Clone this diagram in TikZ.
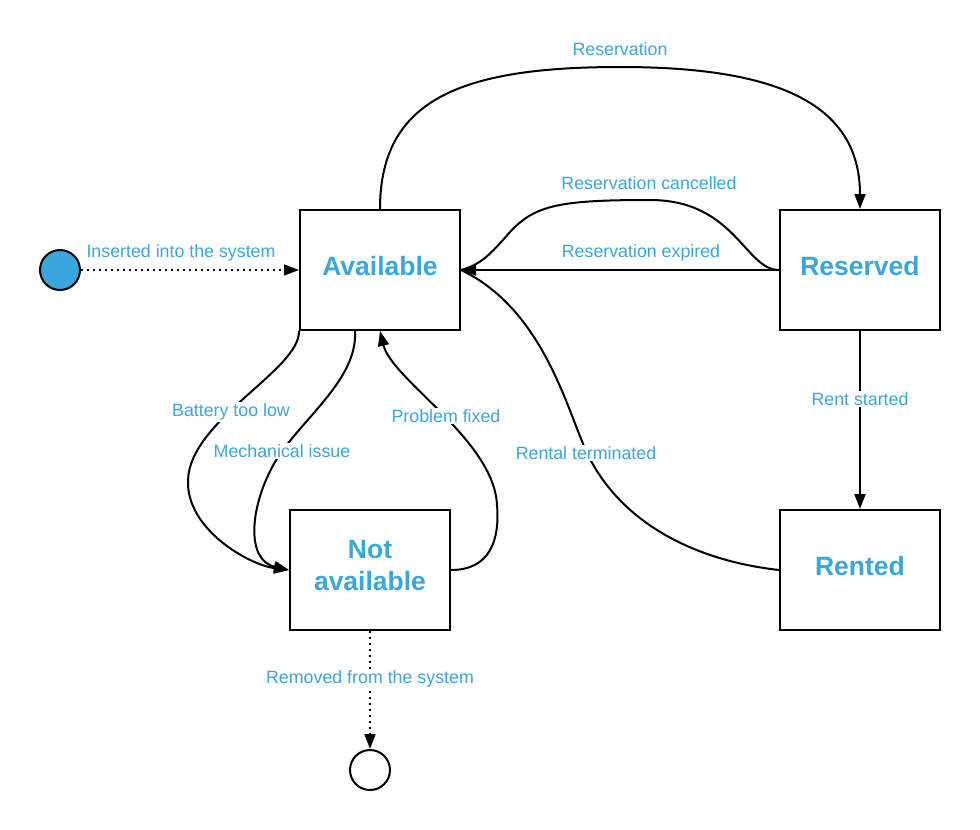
\documentclass[tikz,border=0pt]{standalone}
\usepackage{fontspec}
\setmainfont{Liberation Sans}
\usetikzlibrary{arrows.meta}
\definecolor{lblue}{RGB}{58,166,222}
\begin{document}
\begin{tikzpicture}[x=1pt,y=-1pt,
  state/.style={draw,line width=2pt,minimum width=160pt,minimum height=120pt,inner sep=0pt},
  title/.style={text=lblue,font=\fontsize{26.5}{32}\selectfont\bfseries,align=center,yshift=4pt},
  lbl/.style={text=lblue,font=\fontsize{17.8}{21}\selectfont,inner sep=1.5pt},
  lblw/.style={lbl,fill=white},
  edge/.style={line width=2pt,-{Triangle[length=15pt,width=11pt]}},
  plain/.style={line width=2pt},
  dotline/.style={line width=1.5pt,dash pattern=on 1.5pt off 4.5pt,-{Triangle[length=15pt,width=11pt]}},
  pseudo/.style={circle,draw,line width=2pt,minimum size=40pt,inner sep=0pt}
]
\useasboundingbox (0,0) rectangle (980,830);

\node[state,label={[title]center:Available}] (avail) at (380,270) {};
\node[state,label={[title]center:Reserved}] (res) at (860,270) {};
\node[state,label={[title]center:Rented}] (rent) at (860,570) {};
\node[state,label={[title]center:Not\\available}] (na) at (370,570) {};
\node[pseudo,fill=lblue] (start) at (60,270) {};
\node[pseudo,fill=white] (end) at (370,770) {};

\draw[dotline] (start.east) -- (avail.west);
\draw[edge] (avail.north) .. controls (380,100) and (460,67) .. (620,67) .. controls (770,67) and (860,100) .. (res.north);
\draw[plain] (res.west) .. controls (745,270) and (735,200) .. (650,200) .. controls (560,200) and (535,205) .. (510,232) .. controls (490,255) and (480,265) .. (avail.east);
\draw[plain] (rent.west) .. controls (690,560) and (620,520) .. (588,455) .. controls (568,414) and (545,310) .. (avail.east);
\draw[edge] (res.west) -- (avail.east);
\draw[edge] (avail.south west) .. controls (300,370) and (190,420) .. (188,480) .. controls (186,530) and (250,565) .. (na.west);
\draw[edge] ([xshift=-25pt]avail.south) .. controls (358,380) and (300,420) .. (275,462) .. controls (250,505) and (245,560) .. (na.west);
\draw[edge] (na.east) .. controls (490,570) and (500,540) .. (497,505) .. controls (494,440) and (392,380) .. (avail.south);
\draw[edge] (res.south) -- (rent.north);
\draw[dotline] (na.south) -- (end.north);

\node[lbl] (l1) at (181,253) {Inserted into the system};
\node[lbl] (l2) at (620,49) {Reservation};
\node[lbl] (l3) at (649,183) {Reservation cancelled};
\node[lbl] (l4) at (641,253) {Reservation expired};
\node[lblw] (l5) at (860,399) {Rent started};
\node[lblw] (l6) at (231,412) {Battery too low};
\node[lblw] (l7) at (282,451) {Mechanical issue};
\node[lblw] (l8) at (446,416) {Problem fixed};
\node[lblw] (l9) at (586,453) {Rental terminated};
\node[lblw] (l10) at (370,679) {Removed from the system};
\end{tikzpicture}
\end{document}
